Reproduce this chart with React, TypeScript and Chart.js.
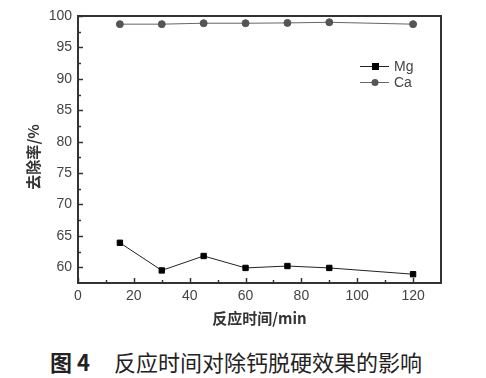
import React, { useEffect, useRef } from "react";
import { Chart, registerables } from "chart.js";

Chart.register(...registerables);

const times = [15, 30, 45, 60, 75, 90, 120];
const mgValues = [63.9, 59.5, 61.8, 59.9, 60.2, 59.9, 58.9];
const caValues = [98.7, 98.7, 98.85, 98.85, 98.9, 99.0, 98.7];
const xTicks = [0, 20, 40, 60, 80, 100, 120];
const xMinorTicks = [10, 30, 50, 70, 90, 110];
const yTicks = [60, 65, 70, 75, 80, 85, 90, 95, 100];
const yMinorTicks = [62.5, 67.5, 72.5, 77.5, 82.5, 87.5, 92.5, 97.5];
const seriesNames = ["Mg", "Ca"];

const AXIS_COLOR = "#333";

const framePlugin = {
  id: "frameAndTicks",
  afterDatasetsDraw(chart: any) {
    const { ctx, chartArea } = chart;
    const xs = chart.scales.x;
    const ys = chart.scales.y;
    ctx.save();
    ctx.strokeStyle = AXIS_COLOR;
    ctx.lineWidth = 2;
    ctx.beginPath();
    ctx.moveTo(chartArea.left, chartArea.top);
    ctx.lineTo(chartArea.right, chartArea.top);
    ctx.lineTo(chartArea.right, chartArea.bottom);
    ctx.stroke();
    ctx.lineWidth = 1.5;
    const b = chartArea.bottom;
    const l = chartArea.left;
    xTicks.forEach((v) => {
      const px = Math.round(xs.getPixelForValue(v)) + 0.5;
      ctx.beginPath();
      ctx.moveTo(px, b);
      ctx.lineTo(px, b - 5);
      ctx.stroke();
    });
    xMinorTicks.forEach((v) => {
      const px = Math.round(xs.getPixelForValue(v)) + 0.5;
      ctx.beginPath();
      ctx.moveTo(px, b);
      ctx.lineTo(px, b - 3);
      ctx.stroke();
    });
    yTicks.forEach((v) => {
      const py = Math.round(ys.getPixelForValue(v)) + 0.5;
      ctx.beginPath();
      ctx.moveTo(l, py);
      ctx.lineTo(l + 5, py);
      ctx.stroke();
    });
    yMinorTicks.forEach((v) => {
      const py = Math.round(ys.getPixelForValue(v)) + 0.5;
      ctx.beginPath();
      ctx.moveTo(l, py);
      ctx.lineTo(l + 3, py);
      ctx.stroke();
    });

    // legend
    const lx = 360;
    const ly0 = 66;
    const gap = 16;
    chart.data.datasets.forEach((ds: any, i: number) => {
      const y = ly0 + i * gap;
      ctx.strokeStyle = ds.borderColor;
      ctx.lineWidth = 1;
      ctx.beginPath();
      ctx.moveTo(lx, y + 0.5);
      ctx.lineTo(lx + 29, y + 0.5);
      ctx.stroke();
      ctx.fillStyle = ds.pointBackgroundColor;
      if (ds.pointStyle === "rect") {
        ctx.fillRect(lx + 12, y - 3, 7, 7);
      } else {
        ctx.beginPath();
        ctx.arc(lx + 15, y + 0.5, 3.5, 0, Math.PI * 2);
        ctx.fill();
      }
      ctx.fillStyle = "#444";
      ctx.font = "14px 'Liberation Sans', Arial, sans-serif";
      ctx.textBaseline = "middle";
      ctx.textAlign = "left";
      ctx.fillText(ds.label, lx + 34, y + 1);
    });
    ctx.restore();
  },
};

export default function App() {
  const canvasRef = useRef<HTMLCanvasElement | null>(null);

  useEffect(() => {
    if (!canvasRef.current) return;
    const chart = new Chart(canvasRef.current, {
      type: "line",
      data: {
        datasets: [
          {
            label: seriesNames[0],
            data: times.map((t, i) => ({ x: t, y: mgValues[i] })),
            borderColor: "#222",
            backgroundColor: "#000",
            pointBackgroundColor: "#000",
            pointBorderColor: "#000",
            pointStyle: "rect",
            pointRadius: 3.8,
            borderWidth: 1,
            tension: 0,
          },
          {
            label: seriesNames[1],
            data: times.map((t, i) => ({ x: t, y: caValues[i] })),
            borderColor: "#666",
            backgroundColor: "#555",
            pointBackgroundColor: "#555",
            pointBorderColor: "#555",
            pointStyle: "circle",
            pointRadius: 3.5,
            borderWidth: 1,
            tension: 0,
          },
        ],
      },
      options: {
        animation: false,
        responsive: false,
        devicePixelRatio: 1,
        layout: { padding: { left: 0, top: 16, right: 45, bottom: 0 } },
        plugins: {
          legend: { display: false },
          tooltip: { enabled: false },
        },
        scales: {
          x: {
            type: "linear",
            min: 0,
            max: 130,
            afterBuildTicks: (s: any) => {
              s.ticks = xTicks.map((v) => ({ value: v }));
            },
            afterFit: (s: any) => {
              s.height = 57;
            },
            grid: { display: false, drawTicks: false },
            border: { display: true, color: AXIS_COLOR, width: 2 },
            ticks: {
              padding: 5,
              color: "#444",
              font: { family: "'Liberation Sans', Arial, sans-serif", size: 14 },
              maxRotation: 0,
            },
            title: {
              display: true,
              text: "反应时间/min",
              color: "#333",
              font: { family: "'Noto Sans CJK SC', sans-serif", size: 15, weight: "bold", lineHeight: 1.2 },
              padding: { top: 0, bottom: 13 },
            },
          },
          y: {
            type: "linear",
            min: 57.5,
            max: 100,
            afterBuildTicks: (s: any) => {
              s.ticks = yTicks.map((v) => ({ value: v }));
            },
            afterFit: (s: any) => {
              s.width = 78;
            },
            grid: { display: false, drawTicks: false },
            border: { display: true, color: AXIS_COLOR, width: 2 },
            ticks: {
              padding: 6,
              color: "#444",
              font: { family: "'Liberation Sans', Arial, sans-serif", size: 14 },
            },
            title: {
              display: true,
              text: "去除率/%\u3000",
              color: "#333",
              font: { family: "'Noto Sans CJK SC', sans-serif", size: 15, weight: "bold", lineHeight: 1.2 },
              padding: { top: 24, bottom: 0 },
            },
          },
        },
      },
      plugins: [framePlugin],
    } as any);
    return () => chart.destroy();
  }, []);

  return (
    <div
      style={{
        position: "fixed",
        left: 0,
        top: 0,
        width: 486,
        height: 378,
        background: "#fff",
        overflow: "hidden",
      }}
    >
      <canvas ref={canvasRef} width={486} height={340} style={{ display: "block", width: 486, height: 340 }} />
      <div
        style={{
          position: "absolute",
          left: 50,
          top: 346,
          whiteSpace: "nowrap",
          fontFamily: "'Noto Sans CJK SC', sans-serif",
          fontSize: 22,
          lineHeight: "30px",
          color: "#222",
        }}
      >
        <span style={{ fontWeight: "bold" }}>图 4</span>
        <span style={{ display: "inline-block", width: 24 }} />
        <span>反应时间对除钙脱硬效果的影响</span>
      </div>
    </div>
  );
}
